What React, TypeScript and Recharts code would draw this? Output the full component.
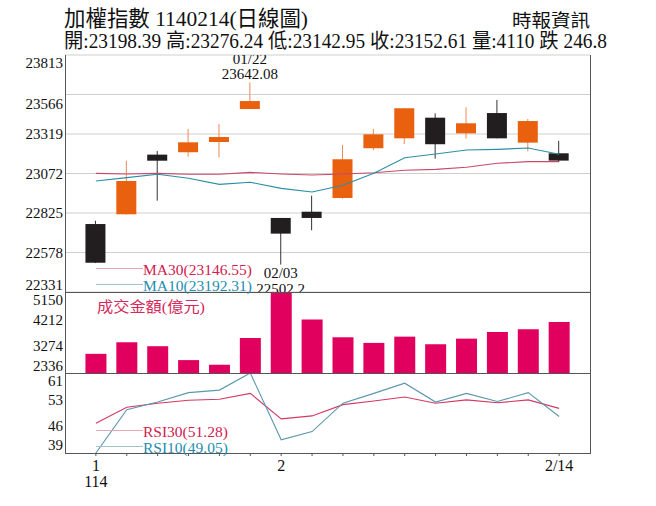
import React from "react";
import { ComposedChart, Bar, Line, XAxis, YAxis, CartesianGrid } from "recharts";

// trading days (1/15 - 2/14, Lunar New Year break in between)
const days = ["01/15", "01/16", "01/17", "01/20", "01/21", "01/22", "02/03", "02/04", "02/05", "02/06", "02/07", "02/10", "02/11", "02/12", "02/13", "02/14"];
const opens = [22756, 22817, 23190, 23205, 23269, 23475, 22794, 22833, 22919, 23230, 23292, 23421, 23323, 23450, 23265, 23198.39];
const highs = [22777, 23152, 23213, 23350, 23382, 23642.08, 22794, 22933, 23250, 23350, 23480, 23448, 23486, 23532, 23413, 23276.24];
const lows = [22512, 22815, 22902, 23177, 23173, 23475, 22502.2, 22717, 22915, 23217, 23256, 23165, 23290, 23292, 23211, 23142.95];
const closes = [22514, 23025, 23152, 23267, 23300, 23525, 22696, 22794, 23161, 23317, 23480, 23255, 23386, 23292, 23400, 23152.61];
const ma30 = [23073, 23069, 23073, 23067, 23067, 23079, 23069, 23063, 23069, 23077, 23092, 23098, 23111, 23136, 23146, 23146.55];
const ma10 = [23025, 23046, 23067, 23042, 23004, 23017, 22979, 22956, 22998, 23073, 23171, 23194, 23219, 23223, 23231, 23192.31];
const volume = [3002, 3404, 3266, 2784, 2623, 3553, 5150, 4197, 3577, 3381, 3599, 3335, 3530, 3760, 3852, 4110];
const rsi30 = [47.2, 51.6, 52.7, 53.5, 53.8, 55.4, 48.4, 49.2, 52.3, 53.3, 54.4, 52.7, 53.6, 52.8, 53.6, 51.28];
const rsi10 = [39, 50.9, 53.0, 55.6, 56.3, 61, 42.65, 44.9, 52.7, 55.4, 58.2, 53.0, 55.4, 53.15, 55.6, 49.05];

const priceTicks = [22331, 22578, 22825, 23072, 23319, 23566, 23813];
const volumeTicks = [2336, 3274, 4212, 5150];
const rsiTicks = [39, 46.33, 53.67, 61];
const rsiTickLabels = ["39", "46", "53", "61"];
const xTickLabels: Record<number, string> = { 0: "1", 6: "2", 15: "2/14" };
const yearLabel = "114";

const highMark = { day: "01/22", text: "23642.08" };
const lowMark = { day: "02/03", text: "22502.2" };

const title = "加權指數 1140214(日線圖)";
const quote = "開:23198.39 高:23276.24 低:23142.95 收:23152.61 量:4110 跌 246.8";
const source = "時報資訊";

const data = days.map((d, i) => ({
  i,
  day: d,
  open: opens[i],
  high: highs[i],
  low: lows[i],
  close: closes[i],
  range: [lows[i], highs[i]],
  ma30: ma30[i],
  ma10: ma10[i],
  volume: volume[i],
  rsi30: rsi30[i],
  rsi10: rsi10[i],
}));

const xs = data.map((d) => d.i);
const SERIF = "'Liberation Serif', 'Noto Sans CJK TC', serif";
const W = 656;

function Candle(props: any) {
  const { x, y, width, height, payload } = props;
  const { open, close, high, low } = payload;
  const k = height / (high - low || 1);
  const py = (v: number) => y + (high - v) * k;
  const up = close >= open;
  const fill = up ? "#E9600E" : "#221E1F";
  const wick = up ? "#EC8A55" : "#333";
  const top = py(Math.max(open, close));
  const bot = py(Math.min(open, close));
  const cx = x + width / 2;
  return (
    <g>
      <line x1={cx} x2={cx} y1={y} y2={y + height} stroke={wick} strokeWidth={1} />
      <rect x={x} y={top} width={width} height={Math.max(bot - top, 1)} fill={fill} />
      {payload.day === highMark.day && (
        <g fontFamily={SERIF} fontSize={15} fill="#111" textAnchor="middle">
          <text x={cx} y={y - 18}>{payload.day}</text>
          <text x={cx} y={y - 3}>{highMark.text}</text>
        </g>
      )}
      {payload.day === lowMark.day && (
        <g fontFamily={SERIF} fontSize={15} fill="#111" textAnchor="middle">
          <text x={cx} y={y + height + 13}>{payload.day}</text>
          <text x={cx} y={y + height + 29}>{lowMark.text}</text>
        </g>
      )}
    </g>
  );
}

function YTick(props: any) {
  const { x, y, payload, shifts, labels, ticks } = props;
  const idx = ticks.indexOf(payload.value);
  const text = labels ? labels[idx] : String(payload.value);
  const dy = shifts[text] ?? 0;
  return (
    <text x={x} y={y + dy + 5} textAnchor="end" fontSize={15} fontFamily={SERIF} fill="#111">
      {text}
    </text>
  );
}

function XTick(props: any) {
  const { x, y, payload } = props;
  const label = xTickLabels[payload.value];
  if (!label) return <g />;
  return (
    <g fontFamily={SERIF} fontSize={16} fill="#111" textAnchor="middle">
      <text x={x} y={y + 13}>{label}</text>
      {payload.value === 0 && <text x={x} y={y + 29}>{yearLabel}</text>}
    </g>
  );
}

export default function App() {
  const xAxisProps = {
    dataKey: "i",
    type: "number" as const,
    domain: [-1, 16],
    ticks: xs,
    allowDataOverflow: true,
  };

  return (
    <div style={{ position: "absolute", left: 0, top: 0, width: W, height: 506, background: "#fff" }}>
      {/* RSI */}
      <div style={{ position: "absolute", left: 0, top: 373 }}>
        <ComposedChart width={W} height={133} data={data} margin={{ top: 0, right: 66, bottom: 0, left: 0 }}>
          <XAxis {...xAxisProps} height={53} axisLine={false} tickSize={3} tickMargin={2}
            tickLine={{ stroke: "#555" }} tick={<XTick />} interval={0} />
          <YAxis width={65} domain={[39, 61]} allowDataOverflow ticks={rsiTicks} axisLine={false}
            tickLine={false} tickSize={0} tickMargin={2} interval={0}
            tick={(p: any) => <YTick {...p} ticks={rsiTicks} labels={rsiTickLabels} shifts={{ "61": 8, "39": -8 }} />} />
          <Line dataKey="rsi30" stroke="#D43862" strokeWidth={1.1} dot={false} isAnimationActive={false} />
          <Line dataKey="rsi10" stroke="#5A98AE" strokeWidth={1.1} dot={false} isAnimationActive={false} />
        </ComposedChart>
      </div>

      {/* turnover */}
      <div style={{ position: "absolute", left: 0, top: 292 }}>
        <ComposedChart width={W} height={81} data={data} margin={{ top: 0, right: 66, bottom: 0, left: 0 }}>
          <XAxis {...xAxisProps} hide />
          <YAxis width={65} domain={[2336, 5150]} allowDataOverflow ticks={volumeTicks} axisLine={false}
            tickLine={false} tickSize={0} tickMargin={2} interval={0}
            tick={(p: any) => <YTick {...p} ticks={volumeTicks} shifts={{ "5150": 8, "4212": 1, "2336": -7 }} />} />
          <Bar dataKey="volume" fill="#E2005F" barSize={21} isAnimationActive={false} />
        </ComposedChart>
      </div>

      {/* price */}
      <div style={{ position: "absolute", left: 0, top: 0 }}>
        <ComposedChart width={W} height={300} data={data} margin={{ top: 55, right: 66, bottom: 8, left: 0 }}>
          <CartesianGrid vertical={false} stroke="#cfcfcf" />
          <XAxis {...xAxisProps} hide />
          <YAxis width={65} domain={[22331, 23813]} allowDataOverflow ticks={priceTicks} axisLine={false}
            tickLine={false} tickSize={0} tickMargin={2} interval={0}
            tick={(p: any) => <YTick {...p} ticks={priceTicks} shifts={{ "23813": 8, "23566": 9, "22331": -7 }} />} />
          <Line dataKey="ma30" stroke="#C9486A" strokeWidth={1.1} dot={false} isAnimationActive={false} />
          <Line dataKey="ma10" stroke="#2A8FA3" strokeWidth={1.1} dot={false} isAnimationActive={false} />
          <Bar dataKey="range" barSize={20} shape={<Candle />} isAnimationActive={false} />
        </ComposedChart>
      </div>

      {/* header, frame and legends */}
      <svg width={W} height={506} style={{ position: "absolute", left: 0, top: 0, pointerEvents: "none" }}>
        <g fontFamily={SERIF} fill="#111">
          <text x={64} y={26} fontSize={22} textLength={244} lengthAdjust="spacingAndGlyphs">{title}</text>
          <text x={64} y={47.5} fontSize={20} textLength={543} lengthAdjust="spacingAndGlyphs">{quote}</text>
          <text x={512} y={26.5} fontSize={18} textLength={78} lengthAdjust="spacingAndGlyphs">{source}</text>
        </g>
        <g stroke="#555" strokeWidth={1}>
          <line x1={65.5} x2={65.5} y1={55} y2={454} />
          <line x1={590.5} x2={590.5} y1={55} y2={454} />
          <line x1={65} x2={591} y1={292.5} y2={292.5} />
          <line x1={65} x2={591} y1={373.5} y2={373.5} />
          <line x1={65} x2={591} y1={453.5} y2={453.5} />
        </g>
        <g fontFamily={SERIF} fontSize={15.5}>
          <line x1={96} x2={143} y1={268.5} y2={268.5} stroke="#E3A9B4" />
          <text x={143} y={274.5} fill="#D0204F">MA30(23146.55)</text>
          <line x1={96} x2={143} y1={284.5} y2={284.5} stroke="#A3C2CA" />
          <text x={143} y={290.5} fill="#1D8DB0">MA10(23192.31)</text>
          <line x1={96} x2={143} y1={430.5} y2={430.5} stroke="#E3A9B4" />
          <text x={143} y={436.5} fill="#D0204F">RSI30(51.28)</text>
          <line x1={96} x2={143} y1={446.5} y2={446.5} stroke="#A3C2CA" />
          <text x={143} y={452.5} fill="#1D8DB0">RSI10(49.05)</text>
        </g>
        <text x={97} y={311.5} fontFamily={SERIF} fontSize={15} fill="#D42A5C" textLength={108}
          lengthAdjust="spacingAndGlyphs">成交金額(億元)</text>
      </svg>
    </div>
  );
}
